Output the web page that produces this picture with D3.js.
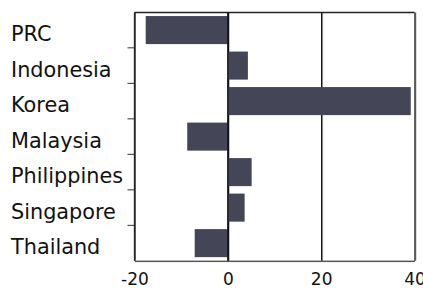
<!DOCTYPE html>
<html>
<head>
<meta charset="utf-8">
<script src="https://cdn.jsdelivr.net/npm/d3@7"></script>
<style>
  body { margin: 0; background: #fff; }
  svg { display: block; font-family: "DejaVu Sans", Verdana, sans-serif; }
</style>
</head>
<body>
<svg id="chart" width="423" height="288"></svg>
<script>
const countries = ['PRC', 'Indonesia', 'Korea', 'Malaysia', 'Philippines', 'Singapore', 'Thailand'];
const values = [-17.6, 4.3, 39.2, -8.7, 5.1, 3.6, -7.1];
const xTicks = [-20, 0, 20, 40];

const width = 423, height = 288;
const margin = {top: 12.5, right: 8.5, bottom: 27.3, left: 134.5};
const innerW = width - margin.left - margin.right;
const innerH = height - margin.top - margin.bottom;

const svg = d3.select('#chart');
const g = svg.append('g').attr('transform', `translate(${margin.left},${margin.top})`);

const x = d3.scaleLinear().domain([-20, 40]).range([0, innerW]);
const y = d3.scaleBand().domain(countries).range([0, innerH])
  .paddingInner(0.21).paddingOuter(0.1);

// grey shadow lines next to gridlines / bottom
g.selectAll('.shadow')
  .data([0, 20, 40])
  .join('line')
  .attr('x1', d => x(d) + 1.5).attr('x2', d => x(d) + 1.5)
  .attr('y1', 0).attr('y2', innerH)
  .attr('stroke', '#b8b8b8').attr('stroke-width', 1);
g.append('line')
  .attr('x1', 0).attr('x2', innerW)
  .attr('y1', innerH + 1).attr('y2', innerH + 1)
  .attr('stroke', '#b8b8b8').attr('stroke-width', 1);

// x axis with gridlines
const xAxis = g.append('g')
  .attr('transform', `translate(0,${innerH})`)
  .call(d3.axisBottom(x).tickValues(xTicks).tickFormat(d => String(d))
    .tickSize(-innerH).tickPadding(12).tickSizeOuter(0));
xAxis.select('.domain').attr('stroke', '#222');
xAxis.selectAll('.tick line').attr('stroke', '#111').attr('stroke-width', 1.3);
xAxis.selectAll('.tick text')
  .attr('font-size', 17).attr('fill', '#111')
  .attr('font-family', '"DejaVu Sans", Verdana, sans-serif');

// frame top and left
g.append('line').attr('x1', 0).attr('x2', innerW).attr('y1', 0).attr('y2', 0)
  .attr('stroke', '#222').attr('stroke-width', 1.3);
g.append('line').attr('x1', 0).attr('x2', 0).attr('y1', 0).attr('y2', innerH)
  .attr('stroke', '#222').attr('stroke-width', 1.3);

// bars (drawn over the gridlines)
g.selectAll('.bar')
  .data(countries)
  .join('rect')
  .attr('class', 'bar')
  .attr('x', (d, i) => x(Math.min(0, values[i])))
  .attr('width', (d, i) => Math.abs(x(values[i]) - x(0)))
  .attr('y', d => y(d))
  .attr('height', y.bandwidth())
  .attr('fill', '#454558');

// zero line on top
g.append('line').attr('x1', x(0)).attr('x2', x(0)).attr('y1', 0).attr('y2', innerH)
  .attr('stroke', '#111').attr('stroke-width', 1.3);

// category boundary ticks
const gap = y.step() * y.paddingInner() / 2;
g.selectAll('.ctick')
  .data(countries.slice(1))
  .join('line')
  .attr('x1', -7).attr('x2', 0)
  .attr('y1', d => y(d) - gap).attr('y2', d => y(d) - gap)
  .attr('stroke', '#333').attr('stroke-width', 1);

// category labels
svg.selectAll('.label')
  .data(countries)
  .join('text')
  .attr('class', 'label')
  .attr('x', 11)
  .attr('y', d => margin.top + y(d) + y.bandwidth() / 2 + 11)
  .attr('font-size', 20.8)
  .attr('fill', '#111')
  .text(d => d);
</script>
</body>
</html>
